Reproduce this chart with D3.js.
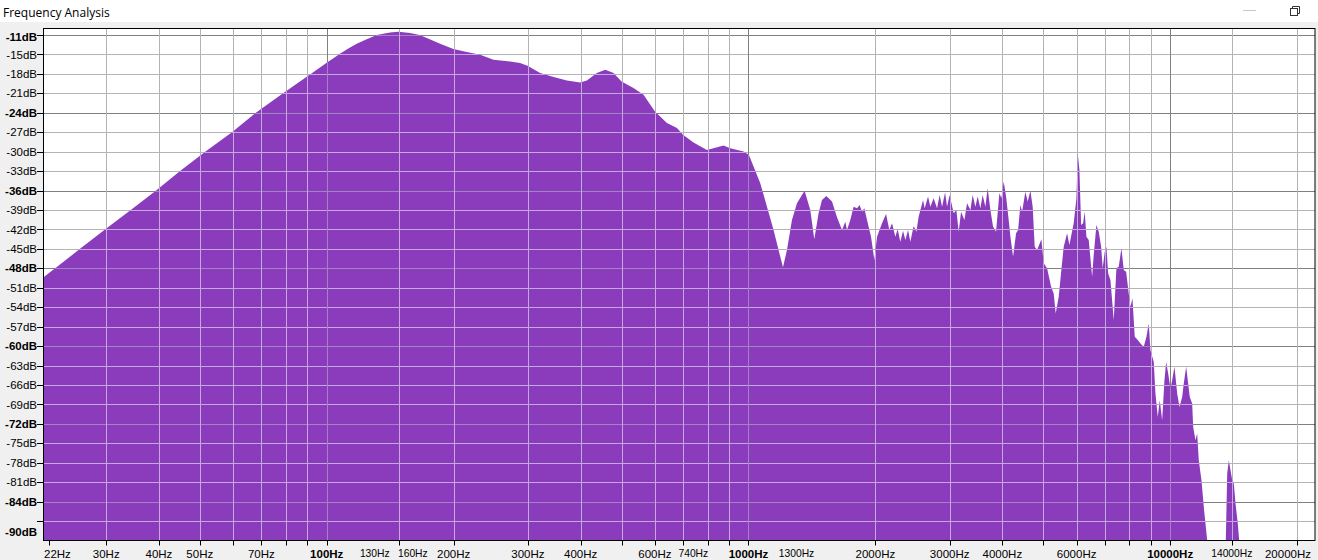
<!DOCTYPE html>
<html><head><meta charset="utf-8">
<script src="https://cdn.jsdelivr.net/npm/d3@7"></script>
<style>
html,body{margin:0;padding:0;background:#f0f0f0;overflow:hidden}
svg{display:block}
</style>
</head><body>
<svg id="chart" width="1318" height="560"></svg>
<script>
// ---- data (frequency in Hz, level in dB) ----
const freqHz = [21.3,22.7,26,29.8,34.3,39.4,44.9,51.5,59.6,67.9,78.8,91.8,100,107.5,112.5,117.8,124,131.4,141.3,147.9,157.6,166,172.7,185.7,199.7,214.8,231.1,248.5,272.2,287.4,299.2,320.7,344.9,371,398.9,413.8,437,457.5,478.7,500,533.8,563.8,600.1,640.8,676.8,699.3,740.7,797.1,826.3,872.7,905.3,973.8,1002.7,
1028.2,1066.6,1106.4,1146.9,1178.7,1207.4,1234,1268.2,1303.3,1358.6,1401.5,1432.5,1466.6,1494.1,1529.6,1578,1621.7,1666.6,1696.9,1712.7,1743.9,1775.6,1808.9,1834.8,1859,1882.5,1910.5,1952.7,1988.2,
2017.8,2073.7,2119.5,2158.1,2190.1,2230,2258.2,2291.7,2325.8,2355.2,2390.2,2420.4,2464.4,2501,2532.6,2594.2,2617,2666.1,2699.8,2748.9,2800.4,2840.4,2878,2925.5,2957.7,
3000,3066.3,3111.8,3151.2,3192.7,3250.8,3299.1,3359.1,3401.5,3452.1,3495.7,3547.6,3592.5,3645.8,3691.9,3746.8,3802.4,3865.2,3935.5,3978.7,
4029,4082.2,4140.6,4179.2,4241.3,4311.4,4358.7,4413.9,4455,4536.1,4593.4,4661.6,4720.6,4772.4,4835.4,4950.3,5013,5106.9,5219.7,5294.4,5352.6,5441,5591.6,5696.4,5768.4,5905.5,5993.3,
6036,6092.2,6149.2,6216.6,6271.3,6329.7,6409.9,6530,6587.4,6685.3,6769.7,6859.2,6919.3,6995.3,7060.6,7126.4,7216.5,7347.8,7457,7551.1,7663.3,7760.3,7862.7,7975.1,
8049.5,8137.9,8240.8,8377,8501.4,8656,8784.6,8895.6,8978.7,9142.1,9227.4,9344.1,9446.7,9571.4,9692.4,9783,9890.3,
10015.7,10109.2,10237,10389.1,10520.5,10677,10770.6,10912.8,11008.4,11129.5,11276.2,11337.9,11481.3,11588.4,11690.2,11863.8,12013.9,12172.3,12239,
13549,13653,13773,13901,14031,14154,14286,14467,14578,22050];

const levelDb = [-49.4,-48,-45,-42,-39,-36,-33,-30,-27,-24,-21,-18,-16.3,-14.9,-14.1,-13.35,-12.7,-12,-11.6,-11.49,-11.7,-12,-12.47,-13.35,-14.17,-14.63,-15.05,-15.82,-16.08,-16.33,-16.75,-17.88,-18.49,-19.02,-19.33,-19.02,-17.88,-17.37,-17.88,-19.17,-20.19,-21.23,-23.81,-25.6,-26.37,-27.41,-28.6,-29.73,-29.46,-29.06,-29.46,-29.99,-30.5,
-32.31,-34.87,-38.49,-42.09,-45.18,-47.85,-45.18,-40.54,-37.96,-36.02,-39,-43.52,-39.51,-37.45,-36.83,-37.71,-40.13,-42.09,-40.8,-42.09,-40.54,-38.49,-38.74,-38.22,-39.26,-38.74,-40.54,-43.12,-46.72,
-43.12,-41.05,-39.62,-42.09,-41.05,-43.12,-41.98,-43.9,-42.2,-43.63,-42.09,-43.9,-41.47,-42.35,-40.03,-37.45,-38.74,-36.94,-38.49,-37.19,-38.74,-36.68,-38.49,-36.32,-38.49,
-36.68,-39.51,-39,-42.35,-39.26,-40.54,-37.96,-39,-36.68,-38.49,-36.94,-38.74,-36.68,-38.49,-35.64,-39,-41.58,-42.35,-36.42,-37.19,
-34.62,-36.94,-40.54,-43.12,-46.21,-42.6,-42.09,-38.22,-39.26,-36.17,-37.71,-36.02,-38.49,-44.67,-45.18,-43.52,-47.23,-48.01,-50.85,-51.87,-54.96,-52.39,-44.67,-42.6,-44.41,-41.05,-37.19,
-30.24,-32.82,-41.31,-41.05,-39.26,-43.12,-43.63,-49.3,-45.95,-41.31,-42.35,-44.67,-48.01,-45.44,-44.67,-48.78,-49.81,-55.99,-48.01,-47.76,-44.91,-48.27,-48.53,-51.87,
-53.94,-52.64,-58.57,-59.08,-59.59,-60.12,-58.57,-56.5,-60.63,-62.44,-67.32,-70.93,-68.35,-71.44,-65.26,-62.44,-64.23,
-66.55,-65.26,-63.21,-67.32,-69.39,-67.84,-65.77,-63.21,-65.26,-67.84,-68.86,-72.48,-74.53,-73.5,-77.62,-80.71,-84.84,-88.44,-95,
-95,-79.68,-77.62,-79.17,-80.71,-81.22,-84.31,-87.4,-95,-95];

// ---- axis definitions ----
const dbDomain = [-90, -11];
const freqDomain = [21.3, 22050];
const yGridDb = [-12,-15,-18,-21,-24,-27,-30,-33,-36,-39,-42,-45,-48,-51,-54,-57,-60,-63,-66,-69,-72,-75,-78,-81,-84,-87];
const yMajorDb = [-12,-24,-36,-48,-60,-72,-84];
const yLabelDb = [-11,-15,-18,-21,-24,-27,-30,-33,-36,-39,-42,-45,-48,-51,-54,-57,-60,-63,-66,-69,-72,-75,-78,-81,-84,-90];
const yBoldDb = [-11,-24,-36,-48,-60,-72,-84,-90];
const xGridHz = [30,40,50,60,70,80,90,100,148,200,300,400,500,600,700,800,900,1000,2000,3000,4000,5000,6000,7000,8000,9000,10000,14000,20000];
const xMajorHz = [100,1000,10000];
const xTickHz = [22,30,40,50,60,70,80,90,100,148,200,300,400,500,600,700,800,900,1000,2000,3000,4000,5000,6000,7000,8000,9000,10000,14000,20000];
const xLabelHz = [22,30,40,50,70,100,200,300,400,600,1000,2000,3000,4000,6000,10000,20000];
const xSmallLabelHz = [130,160,740,1300,14000];

const svg = d3.select('#chart');
const P = {l:43.5, t:28.5, r:1315, b:540.5};
const x = d3.scaleLog().domain(freqDomain).range([P.l, P.r]);
const y = d3.scaleLinear().domain(dbDomain).range([P.b, P.t]).clamp(true);
const px = v => Math.round(v) + 0.5;

// background
svg.append('rect').attr('width',1318).attr('height',560).attr('fill','#f0f0f0');
svg.append('rect').attr('width',1318).attr('height',22).attr('fill','#ffffff');
svg.append('text').attr('x',3).attr('y',16.5).text('Frequency Analysis')
  .attr('font-family','"Open Sans","Noto Sans",sans-serif').attr('font-size',12).attr('fill','#000');
// window buttons
svg.append('line').attr('x1',1243).attr('x2',1256).attr('y1',10.5).attr('y2',10.5).attr('stroke','#c8c8c8');
svg.append('rect').attr('x',1290.5).attr('y',8.5).attr('width',7).attr('height',7).attr('fill','none').attr('stroke','#333');
svg.append('path').attr('d','M1292.5,8.5V6.5H1299.5V13.5H1297.5').attr('fill','none').attr('stroke','#333');

// plot
svg.append('rect').attr('x',P.l).attr('y',P.t).attr('width',P.r-P.l).attr('height',P.b-P.t).attr('fill','#ffffff');

const data = freqHz.map((f,i)=>({f, db: levelDb[i]}));
const area = d3.area().x(d=>x(d.f)).y0(y(dbDomain[0])).y1(d=>y(d.db));

function grid(g, minorCol, majorCol){
  g.selectAll('.hg').data(yGridDb).join('line')
    .attr('x1',P.l).attr('x2',P.r).attr('y1',d=>px(y(d))).attr('y2',d=>px(y(d)))
    .attr('stroke',d=>yMajorDb.includes(d)?majorCol:minorCol);
  g.selectAll('.vg').data(xGridHz).join('line')
    .attr('y1',P.t).attr('y2',P.b).attr('x1',d=>px(x(d))).attr('x2',d=>px(x(d)))
    .attr('stroke',d=>xMajorHz.includes(d)?majorCol:minorCol);
}
grid(svg.append('g'), '#b4b4b4', '#808080');

svg.append('clipPath').attr('id','ac').append('path').attr('d', area(data));
svg.append('path').attr('d', area(data)).attr('fill','#8a3cbd');
grid(svg.append('g').attr('clip-path','url(#ac)'), '#c5a8e0', '#a184c0');

// border
svg.append('rect').attr('x',P.l).attr('y',P.t).attr('width',P.r-P.l).attr('height',P.b-P.t)
  .attr('fill','none').attr('stroke','#000');

// y ticks & labels
svg.append('g').selectAll('line').data(yGridDb).join('line')
  .attr('x1',37).attr('x2',P.l).attr('y1',d=>px(y(d))).attr('y2',d=>px(y(d))).attr('stroke','#000');
svg.append('g').selectAll('text').data(yLabelDb).join('text')
  .attr('x',37).attr('y',d=>Math.min(Math.max(y(d),36.5),532))
  .attr('dy','0.36em').attr('text-anchor','end')
  .attr('font-family','"Liberation Sans",Arial,sans-serif').attr('font-size',11.5)
  .attr('font-weight',d=>yBoldDb.includes(d)?'bold':'normal')
  .text(d=>d+'dB');

// x ticks & labels
svg.append('g').selectAll('line').data(xTickHz).join('line')
  .attr('x1',d=>px(x(d))).attr('x2',d=>px(x(d))).attr('y1',P.b).attr('y2',P.b+5).attr('stroke','#000');
svg.append('g').selectAll('text').data(xLabelHz).join('text')
  .attr('x',d=> d===22 ? 44 : (d===20000 ? 1311 : x(d)))
  .attr('y',557.5)
  .attr('text-anchor',d=> d===22 ? 'start' : (d===20000 ? 'end' : 'middle'))
  .attr('font-family','"Liberation Sans",Arial,sans-serif').attr('font-size',11.5)
  .attr('font-weight',d=>xMajorHz.includes(d)?'bold':'normal')
  .text(d=>d+'Hz');
svg.append('g').selectAll('text').data(xSmallLabelHz).join('text')
  .attr('x',d=>x(d)).attr('y',556.5).attr('text-anchor','middle')
  .attr('font-family','"Liberation Sans",Arial,sans-serif').attr('font-size',10.3)
  .text(d=>d+'Hz');
</script>
</body></html>
